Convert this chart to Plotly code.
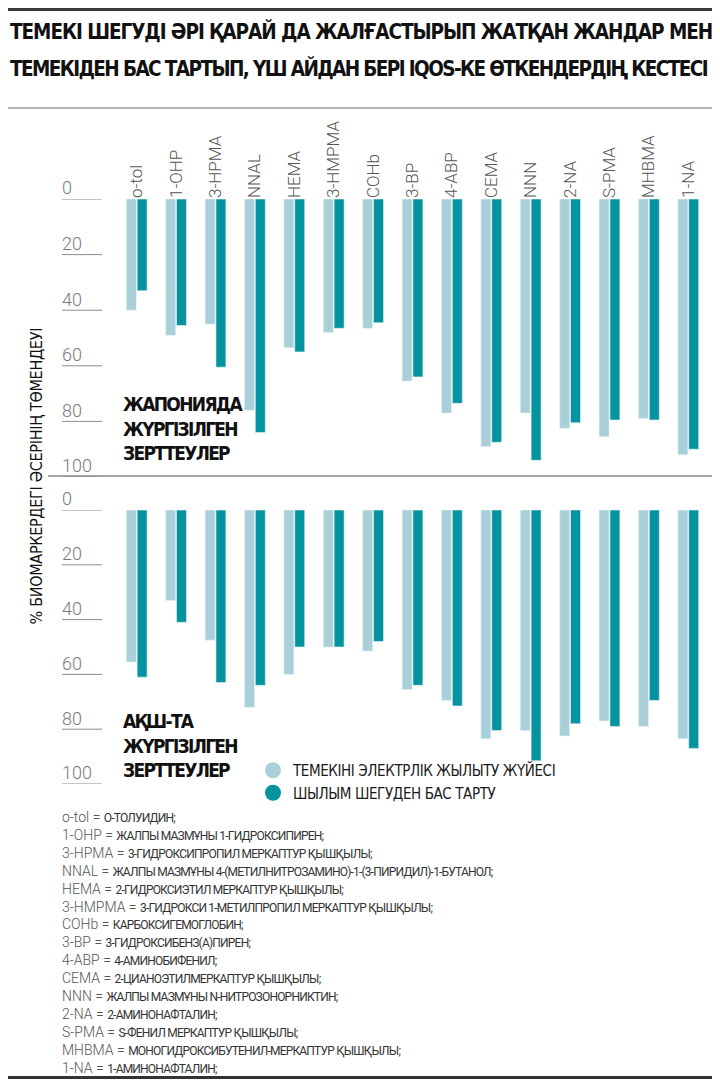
import plotly.graph_objects as go
from plotly.subplots import make_subplots

# the page body keeps an 8px margin, so the figure is drawn 8px in from the window corner
PAGE_W, PAGE_H, OFF = 720, 1087, 8
W, H = PAGE_W - 2 * OFF, PAGE_H - 2 * OFF

categories = ["o-tol", "1-OHP", "3-HPMA", "NNAL", "HEMA", "3-HMPMA", "COHb", "3-BP",
              "4-ABP", "CEMA", "NNN", "2-NA", "S-PMA", "MHBMA", "1-NA"]

# % reduction, Japan study
japan_ths = [40, 49, 45, 76, 53.5, 48, 46.5, 65.5, 77, 89, 77, 82.5, 85.5, 79, 92]
japan_quit = [33, 45.5, 60.5, 84, 55, 46.5, 44.5, 64, 73.5, 87.5, 94, 80.5, 79.5, 79.5, 90]

# % reduction, US study
us_ths = [55.5, 33, 47.5, 72, 60, 50, 51.5, 65.5, 69.5, 83.5, 80.5, 82.5, 77, 79, 83.5]
us_quit = [61, 41, 63, 64, 50, 50, 48, 64, 71.5, 80.5, 91.5, 78, 79, 69.5, 87]

y_ticks = [0, 20, 40, 60, 80, 100]

series_names = ["ТЕМЕКІНІ ЭЛЕКТРЛІК ЖЫЛЫТУ ЖҮЙЕСІ", "ШЫЛЫМ ШЕГУДЕН БАС ТАРТУ"]
panel_labels = ["ЖАПОНИЯДА<br>ЖҮРГІЗІЛГЕН<br>ЗЕРТТЕУЛЕР", "АҚШ-ТА<br>ЖҮРГІЗІЛГЕН<br>ЗЕРТТЕУЛЕР"]
title_lines = ["ТЕМЕКІ ШЕГУДІ ӘРІ ҚАРАЙ ДА ЖАЛҒАСТЫРЫП ЖАТҚАН ЖАНДАР МЕН",
               "ТЕМЕКІДЕН БАС ТАРТЫП, ҮШ АЙДАН БЕРІ IQOS-КЕ ӨТКЕНДЕРДІҢ КЕСТЕСІ"]
y_title = "% БИОМАРКЕРДЕГІ ӘСЕРІНІҢ ТӨМЕНДЕУІ"

definitions = ["О-ТОЛУИДИН;", "ЖАЛПЫ МАЗМҰНЫ 1-ГИДРОКСИПИРЕН;", "3-ГИДРОКСИПРОПИЛ МЕРКАПТУР ҚЫШҚЫЛЫ;",
               "ЖАЛПЫ МАЗМҰНЫ 4-(МЕТИЛНИТРОЗАМИНО)-1-(3-ПИРИДИЛ)-1-БУТАНОЛ;",
               "2-ГИДРОКСИЭТИЛ МЕРКАПТУР ҚЫШҚЫЛЫ;", "3-ГИДРОКСИ 1-МЕТИЛПРОПИЛ МЕРКАПТУР ҚЫШҚЫЛЫ;",
               "КАРБОКСИГЕМОГЛОБИН;", "3-ГИДРОКСИБЕНЗ(А)ПИРЕН;", "4-АМИНОБИФЕНИЛ;",
               "2-ЦИАНОЭТИЛМЕРКАПТУР ҚЫШҚЫЛЫ;", "ЖАЛПЫ МАЗМҰНЫ N-НИТРОЗОНОРНИКТИН;", "2-АМИНОНАФТАЛИН;",
               "S-ФЕНИЛ МЕРКАПТУР ҚЫШҚЫЛЫ;", "МОНОГИДРОКСИБУТЕНИЛ-МЕРКАПТУР ҚЫШҚЫЛЫ;", "1-АМИНОНАФТАЛИН;"]

LIGHT = "#a9cfd9"
DARK = "#05939f"
NARROW = "DejaVu Sans Condensed, DejaVu Sans, sans-serif"
THIN = "Roboto, Liberation Sans, sans-serif"


def py(px):
    # page pixel row -> paper y
    return 1 - (px - OFF) / H


def px_x(px):
    # page pixel column -> paper x
    return (px - OFF) / W


def squeeze(txt, ls):
    return '<span style="letter-spacing:%spx">%s</span>' % (ls, txt)


fig = make_subplots(rows=2, cols=1, shared_xaxes=False)

for row, (ths, quit_) in enumerate([(japan_ths, japan_quit), (us_ths, us_quit)], start=1):
    fig.add_trace(go.Bar(x=categories, y=ths, marker_color=LIGHT, marker_line=dict(color="#e6f1f4", width=0.6),
                         showlegend=False, hoverinfo="x+y"), row=row, col=1)
    fig.add_trace(go.Bar(x=categories, y=quit_, marker_color=DARK, marker_line=dict(color="#e6f1f4", width=0.6),
                         showlegend=False, hoverinfo="x+y"), row=row, col=1)

# legend entries with round symbols
for name, col in zip(series_names, [LIGHT, DARK]):
    fig.add_trace(go.Scatter(x=[None], y=[None], mode="markers", name=squeeze(name, -0.4),
                             marker=dict(symbol="circle", size=20, color=col)), row=2, col=1)

x_dom = [px_x(117), px_x(708)]
axis_common = dict(range=[100, 0], tickvals=y_ticks, ticktext=[str(t) for t in y_ticks],
                   anchor="free", position=px_x(58), side="left", ticklabelposition="inside",
                   ticklabeloverflow="allow", ticks="", showgrid=False, zeroline=False, showline=False,
                   ticklabelshift=11, ticklabelstandoff=0, automargin=False,
                   tickfont=dict(family=THIN, size=18, color="#7a7a7a", weight=300))

fig.update_layout(
    width=W, height=H,
    margin=dict(l=0, r=0, t=0, b=0, autoexpand=False),
    paper_bgcolor="white", plot_bgcolor="white",
    barmode="group", bargap=0.45, bargroupgap=0.08,
    xaxis=dict(domain=x_dom, side="top", tickangle=-90, ticks="", showline=False, showgrid=False,
               automargin=False, tickfont=dict(family=THIN, size=17, color="#555555", weight=300)),
    xaxis2=dict(domain=x_dom, showticklabels=False, ticks="", showline=False, showgrid=False,
                automargin=False),
    yaxis=dict(domain=[py(477), py(199)], **axis_common),
    yaxis2=dict(domain=[py(784), py(510)], **axis_common),
    legend=dict(x=px_x(253), y=py(754), xanchor="left", yanchor="top", bgcolor="rgba(0,0,0,0)",
                font=dict(family=NARROW, size=15, color="#1a1a1a"), itemsizing="trace"),
    showlegend=True,
)

# short tick rules under the tick labels
for yref in ["y", "y2"]:
    for t in y_ticks:
        fig.add_shape(type="line", xref="paper", yref=yref, x0=px_x(62), x1=px_x(102), y0=t, y1=t,
                      line=dict(color="#8c8c8c", width=1))

# frame lines: (page y, x from, x to, colour, width)
frame = [(9.5, 8, 720, "#3a3a3a", 3), (108, 8, 712, "#9a9a9a", 1.5),
         (476, 48, 715, "#8a8a8a", 1.5), (1077.5, 8, 715, "#333333", 3)]
for yy, xa, xb, col, wd in frame:
    fig.add_shape(type="line", xref="paper", yref="paper", x0=px_x(xa), x1=px_x(xb), y0=py(yy), y1=py(yy),
                  line=dict(color=col, width=wd))

# title
for line, yc, ls in zip(title_lines, [31, 68], [-1.05, -1.6]):
    fig.add_annotation(text=squeeze(line, ls), xref="paper", yref="paper", x=px_x(8), y=py(yc),
                       xanchor="left", yanchor="middle", showarrow=False,
                       font=dict(family=NARROW, size=20.5, color="#111111", weight="bold"))

# panel labels
for lab, yc in zip(panel_labels, [429, 745]):
    lab = "<br>".join(squeeze(p, -1.7) for p in lab.split("<br>"))
    fig.add_annotation(text=lab, xref="paper", yref="paper", x=px_x(121), y=py(yc), xanchor="left",
                       yanchor="middle", align="left", showarrow=False,
                       font=dict(family=NARROW, size=19, color="#111111", weight="bold"))

# y axis title
fig.add_annotation(text=squeeze(y_title, -0.3), xref="paper", yref="paper", x=px_x(24), y=py(476),
                   textangle=-90, showarrow=False, font=dict(family=NARROW, size=16, color="#111111"))

# footnotes
notes = []
for abbr, d in zip(categories, definitions):
    notes.append('<span style="font-family:Roboto;font-weight:300;color:#555;font-size:14px">%s = </span>'
                 '<span style="font-family:Roboto;font-weight:400;font-size:12px;letter-spacing:-0.8px;color:#333">%s</span>'
                 % (abbr, d))
fig.add_annotation(text="<br>".join(notes), xref="paper", yref="paper", x=px_x(60), y=py(807),
                   xanchor="left", yanchor="top", align="left", showarrow=False,
                   font=dict(family=THIN, size=13.77, color="#555555"))

fig.write_html("out.html")
